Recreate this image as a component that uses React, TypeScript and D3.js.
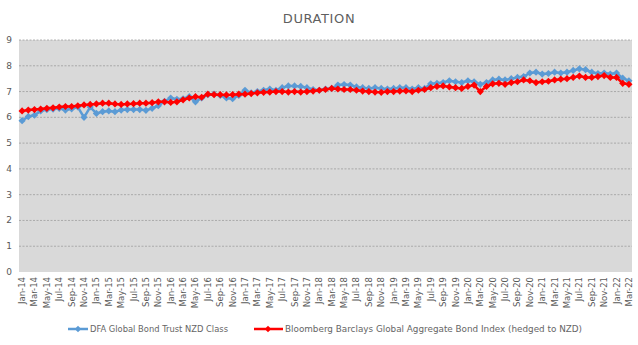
import React from "react";
import * as d3 from "d3";

const MONTHS = ["Jan","Feb","Mar","Apr","May","Jun","Jul","Aug","Sep","Oct","Nov","Dec"];
const categories: string[] = [];
for (let y = 14; y <= 22; y++) {
  for (let m = 0; m < 12; m++) {
    if (y === 22 && m > 2) break;
    categories.push(`${MONTHS[m]}-${y}`);
  }
}

const dfaValues = [
  5.87, 6.03, 6.08, 6.25, 6.3, 6.32, 6.35, 6.28, 6.33, 6.4, 6.0, 6.4,
  6.15, 6.22, 6.25, 6.22, 6.28, 6.3, 6.3, 6.3, 6.27, 6.35, 6.45, 6.62,
  6.75, 6.7, 6.72, 6.8, 6.6, 6.75, 6.88, 6.9, 6.85, 6.75, 6.72, 6.85,
  7.05, 6.95, 7.0, 7.05, 7.1, 7.05, 7.15, 7.22, 7.22, 7.2, 7.15, 7.08,
  7.05, 7.1, 7.12, 7.25, 7.27, 7.25, 7.18, 7.15, 7.12, 7.15, 7.12, 7.1,
  7.12, 7.15, 7.15, 7.1, 7.15, 7.12, 7.3, 7.32, 7.35, 7.42, 7.38, 7.35,
  7.42, 7.38, 7.28, 7.35, 7.45, 7.48, 7.45, 7.5, 7.55, 7.58, 7.72, 7.75,
  7.68, 7.7, 7.75, 7.72, 7.75, 7.82, 7.88, 7.85, 7.75, 7.7, 7.72, 7.68,
  7.72, 7.52, 7.42,
];

const bbgValues = [
  6.25, 6.28, 6.3, 6.32, 6.35, 6.37, 6.4, 6.42, 6.42, 6.45, 6.48, 6.5,
  6.52, 6.55, 6.55, 6.52, 6.5, 6.52, 6.53, 6.55, 6.55, 6.57, 6.6, 6.6,
  6.58, 6.6, 6.68, 6.75, 6.8, 6.78, 6.9, 6.88, 6.88, 6.87, 6.88, 6.9,
  6.9, 6.92, 6.95, 6.97, 6.98, 7.0, 7.0, 6.98, 7.0, 6.98, 7.0, 7.02,
  7.05, 7.08, 7.12, 7.1, 7.08, 7.08, 7.05, 7.02, 7.0, 6.98, 6.97, 7.0,
  7.0, 7.02, 7.03, 7.0, 7.05, 7.08, 7.15, 7.2, 7.22, 7.18, 7.15, 7.12,
  7.2, 7.25, 7.0, 7.2, 7.3, 7.32, 7.28, 7.35, 7.38, 7.45, 7.42, 7.35,
  7.38, 7.4, 7.45, 7.48, 7.5, 7.55, 7.6, 7.55, 7.55, 7.58, 7.62, 7.55,
  7.55, 7.32, 7.28,
];

const yTicks = [0, 1, 2, 3, 4, 5, 6, 7, 8, 9];
const seriesNames = [
  "DFA Global Bond Trust NZD Class",
  "Bloomberg Barclays Global Aggregate Bond Index (hedged to NZD)",
];
const seriesColors = ["#5b9bd5", "#ff0000"];

const W = 638, H = 345;
const plot = { left: 19, right: 632, top: 40, bottom: 272 };
const FONT = "'DejaVu Sans', 'Liberation Sans', sans-serif";

export default function App() {
  const x = d3.scaleBand<string>().domain(categories).range([plot.left, plot.right]).padding(0);
  const y = d3.scaleLinear().domain([0, 9]).range([plot.bottom, plot.top]);
  const cx = (c: string) => (x(c) ?? 0) + x.bandwidth() / 2;
  const line = d3.line<number>().x((_, i) => cx(categories[i])).y((d) => y(d));
  const diamond = (px: number, py: number, r: number) =>
    `M${px},${py - r}L${px + r},${py}L${px},${py + r}L${px - r},${py}Z`;

  const series = [dfaValues, bbgValues];

  return (
    <svg width={W} height={H} style={{ position: "absolute", left: 0, top: 0, background: "#fff" }} fontFamily={FONT}>
      <text x={319} y={23} textAnchor="middle" fontSize={13} fill="#5f5f5f" letterSpacing={0.6}>DURATION</text>
      <rect x={plot.left} y={plot.top} width={plot.right - plot.left} height={plot.bottom - plot.top} fill="#d9d9d9" />
      {yTicks.map((t) => (
        <g key={t}>
          {t > 0 && (
            <line x1={plot.left} x2={plot.right} y1={y(t)} y2={y(t)} stroke="#9a9a9a" strokeWidth={0.75} strokeDasharray="2,1.5" />
          )}
          <text x={9} y={y(t) + 3} textAnchor="middle" fontSize={9} fill="#595959">{t}</text>
        </g>
      ))}
      {categories.map((c, i) =>
        i % 2 === 0 ? (
          <text key={c} transform={`translate(${cx(c) + 3},${plot.bottom + 5}) rotate(-90)`} textAnchor="end" fontSize={8.5} fill="#595959">{c}</text>
        ) : null
      )}
      {series.map((vals, si) => (
        <g key={si}>
          <path d={line(vals) ?? ""} fill="none" stroke={seriesColors[si]} strokeWidth={2.5} strokeLinejoin="round" />
          {vals.map((v, i) => (
            <path key={i} d={diamond(cx(categories[i]), y(v), 3.6)} fill={seriesColors[si]} />
          ))}
        </g>
      ))}
      <g>
        <line x1={68} x2={88} y1={329} y2={329} stroke={seriesColors[0]} strokeWidth={2.5} />
        <path d={diamond(78, 329, 3.2)} fill={seriesColors[0]} />
        <text x={90} y={332} fontSize={8.5} fill="#666" textLength={138} lengthAdjust="spacingAndGlyphs">{seriesNames[0]}</text>
        <line x1={254} x2={283} y1={329} y2={329} stroke={seriesColors[1]} strokeWidth={2.5} />
        <path d={diamond(268, 329, 3.2)} fill={seriesColors[1]} />
        <text x={285} y={332} fontSize={8.5} fill="#666" textLength={297} lengthAdjust="spacingAndGlyphs">{seriesNames[1]}</text>
      </g>
    </svg>
  );
}
